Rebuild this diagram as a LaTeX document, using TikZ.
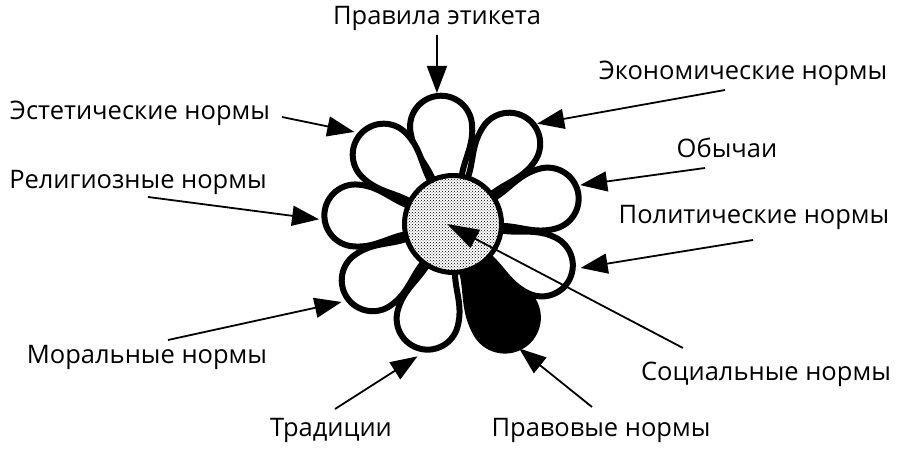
\documentclass[tikz,border=0pt]{standalone}
\usepackage{fontspec}
\setmainfont{Open Sans}
\usetikzlibrary{arrows.meta,calc,patterns}

\tikzset{
  lbl/.style={font=\fontsize{25.5}{30}\selectfont, inner sep=0pt},
  pointer/.style={line width=1.8pt, -{Triangle[length=27pt,width=20pt]}},
  petalline/.style={line width=6pt, line join=round},
}

\begin{document}
\begin{tikzpicture}[x=1pt,y=1pt]
  \useasboundingbox (0,0) rectangle (913,457);
  \coordinate (c) at (453,233);

  % black petal first
  \draw[petalline, fill=black, shift={(c)}, rotate=-61]
    (45,-15) .. controls (66,-20) and (80,-33) .. (107,-33)
    arc[start angle=-90, end angle=90, radius=33]
    .. controls (80,33) and (66,20) .. (45,15) -- cycle;

  % white petals
  \foreach \a in {97,55,15,-25,-105,-145,175,135}
    \draw[petalline, fill=white, shift={(c)}, rotate=\a]
      (45,-14) .. controls (64,-19) and (76,-31) .. (98,-31)
      arc[start angle=-90, end angle=90, radius=31]
      .. controls (76,31) and (64,19) .. (45,14) -- cycle;

  % heart of the flower
  \node[circle, draw, line width=5pt, minimum size=97pt, fill=white,
        postaction={pattern=crosshatch dots}] (core) at (c) {};

  % labels
  \node[lbl] (pravila) at (437,439) {Правила этикета};
  \node[lbl] (ekonom) at (743,384) {Экономические нормы};
  \node[lbl] (estet) at (140,344) {Эстетические нормы};
  \node[lbl] (obych) at (727,309) {Обычаи};
  \node[lbl] (relig) at (138,275) {Религиозные нормы};
  \node[lbl] (polit) at (754,240) {Политические нормы};
  \node[lbl] (moral) at (147,100) {Моральные нормы};
  \node[lbl] (tradic) at (331,27) {Традиции};
  \node[lbl] (pravov) at (601,27) {Правовые нормы};
  \node[lbl] (social) at (766,83) {Социальные нормы};

  % where the arrows hit the petals
  \coordinate (tPravila) at ($(c)+(97:132)$);
  \coordinate (tEkonom) at ($(c)+(50:131)$);
  \coordinate (tEstet) at ($(c)+(137:135)$);
  \coordinate (tObych) at ($(c)+(17:133)$);
  \coordinate (tRelig) at ($(c)+(178:134)$);
  \coordinate (tPolit) at ($(c)+(-19:135)$);
  \coordinate (tMoral) at ($(c)+(-145:136)$);
  \coordinate (tTradic) at ($(c)+(-105:137)$);
  \coordinate (tPravov) at ($(c)+(-62:141)$);

  % arrows
  \draw[pointer] ([yshift=-17pt]pravila.center) -- (tPravila);
  \draw[pointer] ([xshift=-18pt,yshift=-17pt]ekonom.center) -- (tEkonom);
  \draw[pointer] ([xshift=142pt,yshift=-4pt]estet.center) -- (tEstet);
  \draw[pointer] ([xshift=-22pt,yshift=-20pt]obych.center) -- (tObych);
  \draw[pointer] ([xshift=10pt,yshift=-15pt]relig.center) -- (tRelig);
  \draw[pointer] ([xshift=-1pt,yshift=-23pt]polit.center) -- (tPolit);
  \draw[pointer] ([xshift=21pt,yshift=17pt]moral.center) -- (tMoral);
  \draw[pointer] ([xshift=4pt,yshift=21pt]tradic.center) -- (tTradic);
  \draw[pointer] ([xshift=-9pt,yshift=23pt]pravov.center) -- (tPravov);
  \draw[line width=1.8pt, -{Triangle[length=32pt,width=20pt]}]
    ([xshift=-83pt,yshift=26pt]social.center) -- ([xshift=-6pt]core.center);

\end{tikzpicture}
\end{document}
